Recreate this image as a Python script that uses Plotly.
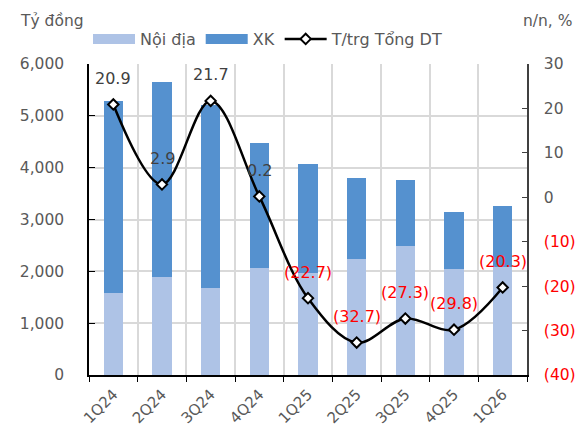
import plotly.graph_objects as go

categories = ["1Q24", "2Q24", "3Q24", "4Q24", "1Q25", "2Q25", "3Q25", "4Q25", "1Q26"]
noi_dia = [1580, 1890, 1670, 2060, 1960, 2240, 2480, 2045, 2085]
xk = [3700, 3760, 3530, 2410, 2120, 1560, 1290, 1095, 1170]
growth = [20.9, 2.9, 21.7, 0.2, -22.7, -32.7, -27.3, -29.8, -20.3]

left_ticks = [0, 1000, 2000, 3000, 4000, 5000, 6000]
right_ticks = [-40, -30, -20, -10, 0, 10, 20, 30]

FONT = "DejaVu Sans"
FS = 15.5
GRAY = "#595959"
RED = "#FF0000"
LIGHT = "#AEC3E6"
DARK = "#5591CF"

x = list(range(len(categories)))


def fmt(v):
    return f"({abs(v):.1f})" if v < 0 else f"{v:.1f}"


def fmt_tick(v):
    if v < 0:
        return f"<span style='color:{RED}'>({abs(v)})</span>"
    return str(v)


W, H = 581, 430
L, R, T, B = 89, 54, 64, 55
pw, ph = W - L - R, H - T - B


def px(xp):
    return (xp - L) / pw


def py(yp):
    return (H - B - yp) / ph


fig = go.Figure()
fig.add_trace(go.Bar(x=x, y=noi_dia, name="Nội địa", marker_color=LIGHT,
                     marker_line_width=0, width=0.4, showlegend=False))
fig.add_trace(go.Bar(x=x, y=xk, name="XK", marker_color=DARK,
                     marker_line_width=0, width=0.4, showlegend=False))
# legend entries drawn as wide swatches
fig.add_trace(go.Scatter(x=[None], y=[None], name="Nội địa", mode="lines",
                         line=dict(color=LIGHT, width=11)))
fig.add_trace(go.Scatter(x=[None], y=[None], name="XK", mode="lines",
                         line=dict(color=DARK, width=11)))
fig.add_trace(go.Scatter(x=x, y=growth, name="T/trg Tổng DT", yaxis="y2",
                         mode="lines+markers",
                         line=dict(color="black", width=2.5, shape="spline", smoothing=1.0),
                         marker=dict(symbol="diamond", size=8, color="white",
                                     line=dict(color="black", width=2))))

annotations = []
for xi, v in zip(x, growth):
    annotations.append(dict(x=xi, y=v, xref="x", yref="y2", text=fmt(v),
                            showarrow=False, yshift=26,
                            font=dict(family=FONT, size=16,
                                      color=RED if v < 0 else "#404040")))
annotations.append(dict(x=px(18), y=py(21), xref="paper", yref="paper", text="Tỷ đồng",
                        showarrow=False, xanchor="left", yanchor="middle",
                        font=dict(family=FONT, size=FS, color=GRAY)))
annotations.append(dict(x=px(574), y=py(21), xref="paper", yref="paper", text="n/n, %",
                        showarrow=False, xanchor="right", yanchor="middle",
                        font=dict(family=FONT, size=FS, color=GRAY)))

fig.update_layout(
    width=W, height=H,
    margin=dict(l=L, r=R, t=T, b=B),
    paper_bgcolor="white", plot_bgcolor="white",
    barmode="stack",
    font=dict(family=FONT, size=FS, color=GRAY),
    showlegend=True,
    legend=dict(orientation="h", x=px(88), y=py(39), xanchor="left", yanchor="middle",
                font=dict(family=FONT, size=16, color=GRAY), bgcolor="rgba(0,0,0,0)",
                tracegroupgap=0, traceorder="normal", itemwidth=42),
    annotations=annotations,
    xaxis=dict(range=[-0.5, len(categories) - 0.5], tickmode="array", tickvals=x,
               ticktext=categories, tickangle=-45, showgrid=False, ticks="",
               showline=True, linecolor="black", linewidth=1.5, automargin=False,
               ticklabelstandoff=3,
               tickfont=dict(family=FONT, size=15, color=GRAY),
               minor=dict(tick0=-0.5, dtick=1, showgrid=True, gridcolor="#D9D9D9",
                          gridwidth=1.5, ticks="outside", ticklen=5, tickcolor="black"),
               zeroline=False),
    yaxis=dict(range=[0, 6000], tickmode="array", tickvals=left_ticks,
               tickformat=",", showgrid=True, gridcolor="#D9D9D9", gridwidth=1.5,
               ticks="inside", ticklen=6, tickcolor="black",
               showline=True, linecolor="black", linewidth=1.5, automargin=False,
               ticklabelstandoff=20, zeroline=False,
               tickfont=dict(family=FONT, size=FS, color=GRAY)),
    yaxis2=dict(range=[-40, 30], overlaying="y", side="right", tickmode="array",
                tickvals=right_ticks, ticktext=[fmt_tick(v) for v in right_ticks],
                showgrid=False, zeroline=False, ticks="inside", ticklen=5,
                tickcolor="#404040", showline=True, linecolor="#404040", linewidth=1.5,
                ticklabelstandoff=12, automargin=False,
                tickfont=dict(family=FONT, size=FS, color=GRAY)),
)

fig.write_html("out.html", config={"displayModeBar": False},
               post_script="document.body.style.margin='0px';document.body.style.overflow='hidden';")
